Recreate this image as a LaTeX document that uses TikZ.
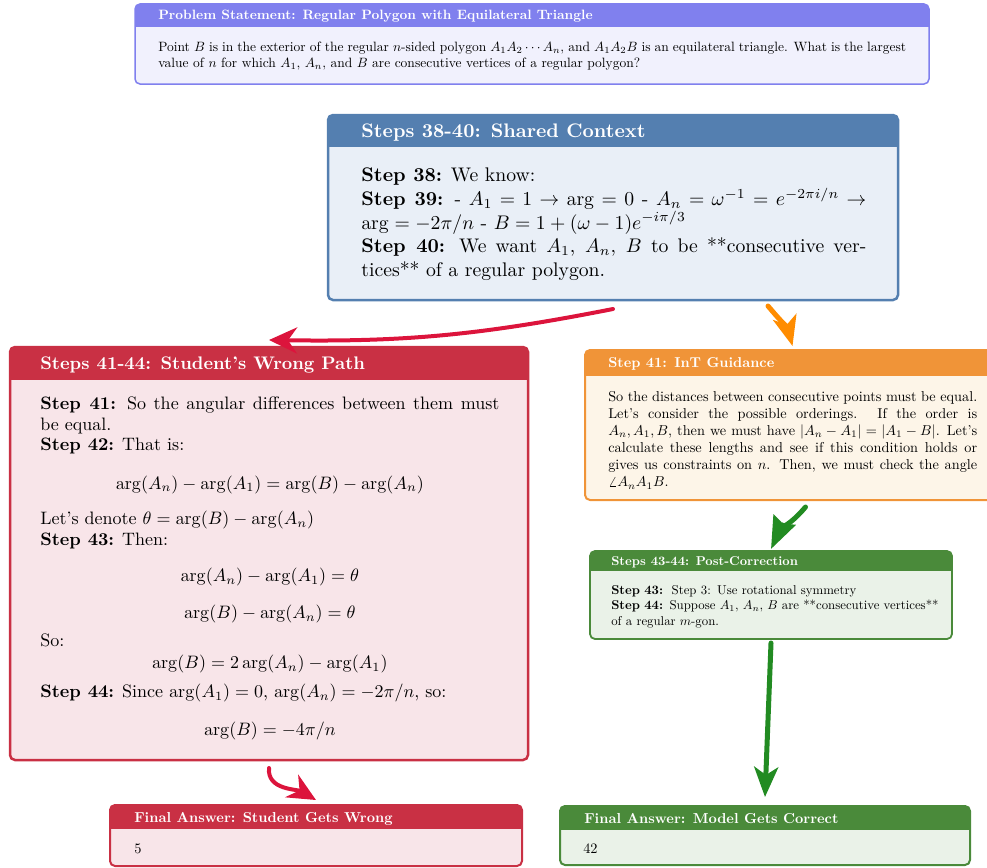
\RequirePackage{fix-cm}
\documentclass[tikz,border=0pt]{standalone}
\usetikzlibrary{arrows.meta}
\setlength\parindent{0pt}

% panel colours (frame / header, body)
\definecolor{probFrame}{RGB}{128,128,238}
\definecolor{probBody}{RGB}{241,241,253}
\definecolor{ctxFrame}{RGB}{84,127,176}
\definecolor{ctxBody}{RGB}{233,239,247}
\definecolor{badFrame}{RGB}{201,48,68}
\definecolor{badBody}{RGB}{248,229,233}
\definecolor{intFrame}{RGB}{240,148,56}
\definecolor{intBody}{RGB}{253,245,232}
\definecolor{okFrame}{RGB}{74,138,58}
\definecolor{okBody}{RGB}{234,242,232}
% connector colours
\definecolor{arrRed}{RGB}{220,20,60}
\definecolor{arrOrange}{RGB}{255,140,0}
\definecolor{arrGreen}{RGB}{34,139,34}

% #1 name, #2 frame colour, #3 body colour, #4 left, #5 top, #6 right, #7 bottom,
% #8 header height, #9 frame width
\newcommand\drawpanel[9]{%
  \node[inner sep=0pt, outer sep=0pt, minimum width={(#6-#4)*1pt},
        minimum height={(#7-#5)*1pt}, anchor=north west] (#1) at (#4,-#5) {};
  \begin{scope}
    \clip[rounded corners=5pt] (#1.south west) rectangle (#1.north east);
    \fill[#3] (#1.south west) rectangle (#1.north east);
    \fill[#2] (#1.north west) rectangle ([yshift=-#8pt]#1.north east);
  \end{scope}
  \draw[#2, line width=#9pt, rounded corners=5pt] (#1.south west) rectangle (#1.north east);
}

\newcommand\dmath[1]{{\centering$#1$\par}}

\tikzset{
  ttl/.style={anchor=base west, inner sep=0pt, text=white, font=\bfseries,
    transform shape, scale=#1},
  txt/.style={anchor=north west, inner sep=0pt, align=justify,
    transform shape, scale=#1},
  redarr/.style={draw=arrRed, line width=4pt, line cap=round,
    -{Stealth[length=28pt, width=26pt, inset=9pt]}},
  orangearr/.style={draw=arrOrange, line width=5pt, line cap=round,
    -{Stealth[length=30pt, width=24pt, inset=8pt]}},
  greenarr/.style={draw=arrGreen, line width=5pt, line cap=round,
    -{Stealth[length=30pt, width=24pt, inset=8pt]}},
}

\begin{document}
\begin{tikzpicture}[x=1pt,y=1pt]
\useasboundingbox (0,0) rectangle (987,-867);

% ---------- problem statement ----------
\drawpanel{prob}{probFrame}{probBody}{135}{4}{929}{84}{23}{1.5}
\node[ttl=1.355] (prob-title) at (158,-20)
  {Problem Statement: Regular Polygon with Equilateral Triangle};
\node[txt=1.35, text width=554pt] (prob-text) at (158,-41.3)
  {Point $B$ is in the exterior of the regular $n$-sided polygon $A_1A_2\cdots A_n$, and
   $A_1A_2B$ is an equilateral triangle. What is the largest value of $n$ for which
   $A_1$, $A_n$, and $B$ are consecutive vertices of a regular polygon?};

% ---------- shared context ----------
\drawpanel{ctx}{ctxFrame}{ctxBody}{328}{115}{898}{300}{32}{2.5}
\node[ttl=1.96] (ctx-title) at (361,-137.7)
  {Steps 38-40: Shared Context};
\node[txt=1.97, text width=256.3pt] (ctx-text) at (361,-167.6)
  {\textbf{Step 38:} We know:\par
   \textbf{Step 39:} - $A_1 = 1 \rightarrow \arg = 0$ - $A_n = \omega^{-1} = e^{-2\pi i/n}
   \rightarrow \arg = -2\pi/n$ - $B = 1 + (\omega - 1)e^{-i\pi/3}$\par
   \textbf{Step 40:} We want $A_1$, $A_n$, $B$ to be **consecutive vertices** of a
   regular polygon.};

% ---------- student's path ----------
\drawpanel{bad}{badFrame}{badBody}{10}{347}{528}{760}{33}{2.5}
\node[ttl=1.82] (bad-title) at (40,-369.8)
  {Steps 41-44: Student's Wrong Path};
\node[txt=1.8, text width=255pt, font=\fontsize{10}{11.55}\selectfont] (bad-text)
  at (40,-396.3)
  {\textbf{Step 41:} So the angular differences between them must be equal.\par
   \textbf{Step 42:} That is:\par\vspace{9.6pt}
   \dmath{\arg(A_n) - \arg(A_1) = \arg(B) - \arg(A_n)}\vspace{8.4pt}
   Let's denote $\theta = \arg(B) - \arg(A_n)$\par
   \textbf{Step 43:} Then:\par\vspace{8.4pt}
   \dmath{\arg(A_n) - \arg(A_1) = \theta}\vspace{9pt}
   \dmath{\arg(B) - \arg(A_n) = \theta}\vspace{4pt}
   So:\par\vspace{0.7pt}
   \dmath{\arg(B) = 2\arg(A_n) - \arg(A_1)}\vspace{4.6pt}
   \textbf{Step 44:} Since $\arg(A_1) = 0$, $\arg(A_n) = -2\pi/n$, so:\par\vspace{9.6pt}
   \dmath{\arg(B) = -4\pi/n}};

% ---------- InT guidance ----------
\drawpanel{int}{intFrame}{intBody}{585}{350}{1000}{500}{26}{2}
\node[ttl=1.43] (int-title) at (608,-367.9)
  {Step 41: InT Guidance};
\node[txt=1.43, text width=258pt] (int-text) at (608,-390.7)
  {So the distances between consecutive points must be equal. Let's consider the
   possible orderings.  If the order is $A_n, A_1, B$, then we must have
   $|A_n - A_1| = |A_1 - B|$. Let's calculate these lengths and see if this condition
   holds or gives us constraints on $n$. Then, we must check the angle
   $\angle A_n A_1 B$.};

% ---------- post-correction ----------
\drawpanel{post}{okFrame}{okBody}{590}{551}{952}{639}{20}{1.8}
\node[ttl=1.28] (post-title) at (611,-565.4)
  {Steps 43-44: Post-Correction};
\node[txt=1.28, align=left, text width=264pt] (post-text) at (611,-585.3)
  {\textbf{Step 43:}\ \ Step 3: Use rotational symmetry\par
   \textbf{Step 44:} Suppose $A_1$, $A_n$, $B$ are **consecutive vertices** of a
   regular $m$-gon.};

% ---------- final answers ----------
\drawpanel{finbad}{badFrame}{badBody}{110}{805}{522}{866}{24}{2}
\node[ttl=1.44] (finbad-title) at (134,-822)
  {Final Answer: Student Gets Wrong};
\node[anchor=base west, inner sep=0pt, transform shape, scale=1.44] (finbad-text)
  at (134,-853) {5};

\drawpanel{finok}{okFrame}{okBody}{560}{806}{970}{865}{24}{2}
\node[ttl=1.44] (finok-title) at (584,-823)
  {Final Answer: Model Gets Correct};
\node[anchor=base west, inner sep=0pt, transform shape, scale=1.44] (finok-text)
  at (583,-853) {42};

% ---------- connectors ----------
\draw[redarr] ([yshift=-9pt]ctx.south) to[bend left=6] ([yshift=7pt]bad.north);
\draw[orangearr] ([xshift=155pt,yshift=-6pt]ctx.south) to[out=-50,in=105]
  ([yshift=4pt]int.north);
\draw[greenarr, -{Stealth[length=32pt, width=24pt, inset=4pt]}]
  ([xshift=13pt,yshift=-7pt]int.south) to[out=-130,in=65] ([yshift=2pt]post.north);
\draw[redarr] ([yshift=-8pt]bad.south) to[out=-95,in=150] ([yshift=5pt]finbad.north);
\draw[greenarr] ([yshift=-4pt]post.south) -- ([yshift=9pt]finok.north);
\end{tikzpicture}
\end{document}
